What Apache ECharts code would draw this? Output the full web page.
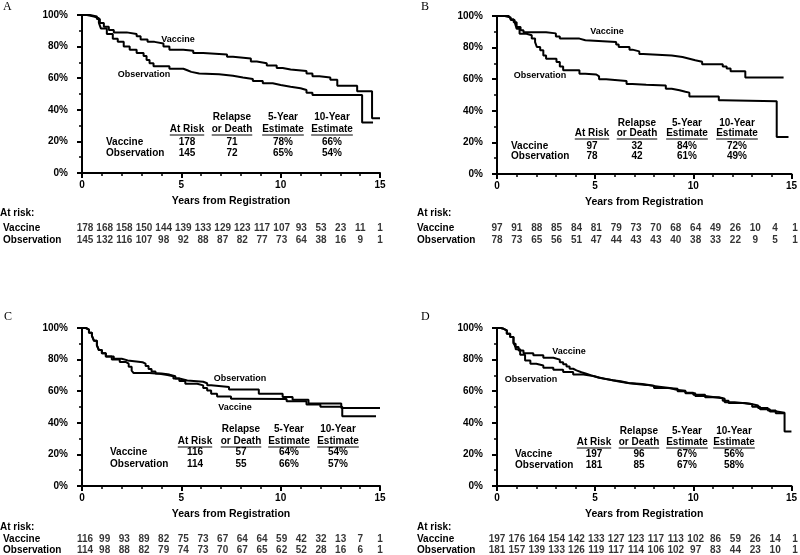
<!DOCTYPE html>
<html><head><meta charset="utf-8">
<script src="https://cdn.jsdelivr.net/npm/echarts/dist/echarts.min.js"></script>
<style>html,body{margin:0;padding:0;background:#fff}#c{width:800px;height:555px}</style>
</head><body><div id="c"></div>
<script>
// ---------- DATA ----------
const xTickValues = [0, 5, 10, 15];
const yTickValues = [0, 20, 40, 60, 80, 100];
const riskYears = [0,1,2,3,4,5,6,7,8,9,10,11,12,13,14,15];
const groupNames = ['Vaccine', 'Observation'];
const axisTitle = 'Years from Registration';
const riskTitle = 'At risk:';
const headerLine1 = ['', 'Relapse', '5-Year', '10-Year'];
const headerLine2 = ['At Risk', 'or Death', 'Estimate', 'Estimate'];

// Panel A
const vaccineA = [[0,100],[0.4,99],[0.75,97.5],[0.9,95],[1.1,92.5],[1.35,90.5],[1.6,89],[2.25,88],[2.75,86.5],[2.95,84.5],[3.3,83],[3.65,82],[4.1,80],[4.4,78],[5.1,77.4],[5.6,76],[6.1,75],[7.3,73.6],[7.6,72.5],[8.5,70.5],[8.8,69.5],[9.3,68],[9.8,66.5],[10.1,65.5],[10.5,64.5],[11.3,63],[11.6,61.3],[11.95,60.5],[12.5,59],[12.85,55.2],[13.85,51.8],[14.6,34.6],[15,34.6]];
const observationA = [[0,100],[0.25,99],[0.6,98],[0.85,95],[0.95,91.5],[1.25,88],[1.55,85],[1.8,83],[2.1,80],[2.4,78],[2.75,76],[3.1,74],[3.25,71.5],[3.4,69.4],[3.6,67.5],[4.4,66],[5.1,65],[5.3,64],[5.5,63],[5.9,62.5],[6.9,61.6],[7.6,60.5],[8.1,59.5],[8.6,58.2],[9.1,56.8],[9.6,55.7],[10.0,54.6],[10.5,53.6],[11.0,52.5],[11.3,50.8],[11.6,49.3],[14.1,32],[14.65,32]];
const riskVaccineA = [178,168,158,150,144,139,133,129,123,117,107,93,53,23,11,1];
const riskObservationA = [145,132,116,107,98,92,88,87,82,77,73,64,38,16,9,1];
const summaryVaccineA = ['178','71','78%','66%'];
const summaryObservationA = ['145','72','65%','54%'];

// Panel B
const vaccineB = [[0,100],[0.6,99],[0.7,98],[0.85,96],[1.0,93],[1.2,91],[1.35,89.7],[2.5,89],[3.0,87],[3.2,85.7],[4.2,84.6],[4.5,83.5],[6.07,82],[6.2,80.4],[6.75,78.7],[6.9,77.6],[7.25,76],[7.45,75],[8.9,74],[9.45,73],[9.8,72],[10.1,71],[10.45,69.4],[11.5,68],[11.7,66.7],[11.9,65],[12.65,61],[14.6,61]];
const observationB = [[0,100],[0.4,99],[0.7,97.5],[0.9,96],[1.0,92],[1.15,88.8],[1.5,87.8],[1.77,85.7],[1.94,83.5],[2.03,80.4],[2.2,78.3],[2.36,75],[2.5,73],[3.03,70.9],[3.2,68],[3.37,65.6],[4.2,63.5],[4.5,63],[5.06,61.8],[5.2,60],[5.56,58.9],[6.6,57],[6.9,56.5],[7.6,56],[8.6,54],[8.9,53],[9.3,52],[9.6,51.5],[9.8,49],[11.3,46.6],[11.5,46],[14.25,23.4],[14.85,23.4]];
const riskVaccineB = [97,91,88,85,84,81,79,73,70,68,64,49,26,10,4,1];
const riskObservationB = [78,73,65,56,51,47,44,43,43,40,38,33,22,9,5,1];
const summaryVaccineB = ['97','32','84%','72%'];
const summaryObservationB = ['78','42','61%','49%'];

// Panel C
const vaccineC = [[0,100],[0.2,99],[0.35,97],[0.5,95],[0.6,92],[0.75,89],[0.85,86],[1.0,84],[1.2,82],[1.6,80.5],[2.0,79.5],[2.3,78.3],[3.05,77.5],[3.2,76],[3.35,74],[3.5,72.5],[3.7,71.2],[4.0,70.5],[4.4,69.5],[4.7,68],[4.9,66.5],[5.2,64.7],[5.8,63.7],[6.1,62],[6.3,60.5],[6.5,58.4],[6.8,56.7],[7.5,55.2],[8.0,55],[10.3,53.7],[11.3,51.6],[12.0,50.2],[13.1,44.2],[14.8,44.2]];
const observationC = [[0,100],[0.2,99],[0.35,97],[0.5,95],[0.6,92],[0.75,89],[0.85,86],[1.0,84],[1.2,82],[1.5,80],[1.9,78.5],[2.2,77.4],[2.35,75.5],[2.5,73],[2.6,71.5],[3.4,71],[3.9,70.3],[4.3,69.5],[4.6,68],[4.9,66.8],[5.3,66],[6.1,65],[6.3,63.7],[6.5,62.6],[7.4,61],[8.9,58.4],[10.1,56.4],[10.6,54.6],[11.4,52.2],[13.05,49.4],[15,49.4]];
const riskVaccineC = [116,99,93,89,82,75,73,67,64,64,59,42,32,13,7,1];
const riskObservationC = [114,98,88,82,79,74,73,70,67,65,62,52,28,16,6,1];
const summaryVaccineC = ['116','57','64%','54%'];
const summaryObservationC = ['114','55','66%','57%'];

// Panel D
const vaccineD = [[0,100],[0.2,99.5],[0.34,98.5],[0.5,96.4],[0.67,94.3],[0.84,91],[0.93,88],[1.1,85.8],[1.35,84],[1.85,82.7],[2.36,81.2],[2.87,80],[3.2,78.4],[3.37,77],[3.54,75.7],[3.7,74.2],[3.88,73.2],[4.05,72],[4.3,71],[4.55,70],[4.8,69],[5.1,67.8],[5.5,67],[5.9,66.3],[6.3,65.2],[6.7,64.5],[7.4,63.5],[8.0,62],[8.7,61.5],[9.2,60],[9.6,58.7],[10.1,57],[10.6,56],[11.2,55.5],[11.5,54],[11.8,52.5],[12.6,51.8],[13.0,50.2],[13.4,48.5],[13.9,47.2],[14.25,46.3],[14.65,34.5],[15,34.5]];
const observationD = [[0,100],[0.2,99.5],[0.34,98.5],[0.5,96.4],[0.67,94.3],[0.84,90],[0.95,86.5],[1.18,83],[1.43,79.5],[1.7,77.4],[2.0,76.3],[2.36,74.9],[2.87,73.6],[3.37,72.1],[3.88,70.6],[4.4,69.6],[4.9,68.5],[5.2,67.4],[5.7,66.2],[6.2,65],[6.75,64],[7.6,62.9],[8.26,62],[8.8,61],[9.1,60.3],[9.6,59],[10.0,57.7],[10.6,56.2],[11.3,55.2],[11.6,53],[12.1,52],[12.9,51],[13.3,49.3],[13.8,47.8],[14.2,46],[14.65,46]];
const riskVaccineD = [197,176,164,154,142,133,127,123,117,113,102,86,59,26,14,1];
const riskObservationD = [181,157,139,133,126,119,117,114,106,102,97,83,44,23,10,1];
const summaryVaccineD = ['197','96','67%','56%'];
const summaryObservationD = ['181','85','67%','58%'];

// ---------- LAYOUT ----------
const FONT = '"Liberation Sans", Arial, Helvetica, sans-serif';
const SERIF = '"Liberation Serif", "Times New Roman", serif';
const panels = [
  {letter:'A', letterPos:[3,7], grid:{left:82, top:15, width:298, height:158}, riskGrid:{top:222, height:24}, rowLabelMargin:82, riskTitlePos:[0,213],
   vac:vaccineA, obs:observationA, rv:riskVaccineA, ro:riskObservationA, sv:summaryVaccineA, so:summaryObservationA,
   table:{labelX:106, cols:[187,232,283,332], ys:[117,129,142,153]},
   curveLabels:[{t:'Vaccine', x:178, y:40},{t:'Observation', x:144, y:75}]},
  {letter:'B', letterPos:[421,7], grid:{left:497, top:16, width:298, height:158}, riskGrid:{top:222, height:24}, rowLabelMargin:80, riskTitlePos:[417,213],
   vac:vaccineB, obs:observationB, rv:riskVaccineB, ro:riskObservationB, sv:summaryVaccineB, so:summaryObservationB,
   table:{labelX:511, cols:[592,637,687,737], ys:[123,133,146,156]},
   curveLabels:[{t:'Vaccine', x:607, y:32},{t:'Observation', x:540, y:76}]},
  {letter:'C', letterPos:[4,317], grid:{left:82, top:328, width:298, height:158}, riskGrid:{top:534, height:22}, rowLabelMargin:82, riskTitlePos:[0,527],
   vac:vaccineC, obs:observationC, rv:riskVaccineC, ro:riskObservationC, sv:summaryVaccineC, so:summaryObservationC,
   table:{labelX:110, cols:[195,241,289,338], ys:[429,441,452,464]},
   curveLabels:[{t:'Observation', x:240, y:379},{t:'Vaccine', x:235, y:408}]},
  {letter:'D', letterPos:[421,317], grid:{left:497, top:328, width:298, height:158}, riskGrid:{top:534, height:22}, rowLabelMargin:80, riskTitlePos:[417,527],
   vac:vaccineD, obs:observationD, rv:riskVaccineD, ro:riskObservationD, sv:summaryVaccineD, so:summaryObservationD,
   table:{labelX:515, cols:[594,639,687,734], ys:[431,442,454,465]},
   curveLabels:[{t:'Vaccine', x:569, y:352},{t:'Observation', x:531, y:380}]}
];

const measureCtx = document.createElement('canvas').getContext('2d');
function textWidth(s, size) { measureCtx.font = 'bold ' + size + 'px ' + FONT; return measureCtx.measureText(s).width; }
function txt(x, y, s, size, align, family, weight) {
  return {type:'text', x:x, y:y, silent:true, style:{text:s, fill:'#000', fontSize:size, fontWeight:weight||'bold', fontFamily:family||FONT, align:align||'center', verticalAlign:'middle'}};
}

const grids = [], xAxes = [], yAxes = [], series = [], graphics = [];
const black = '#000';
panels.forEach(function(p, i) {
  const gi = i * 2, ri = i * 2 + 1;
  grids.push(Object.assign({containLabel:false}, p.grid));
  grids.push({left:p.grid.left, width:p.grid.width, top:p.riskGrid.top, height:p.riskGrid.height, containLabel:false});
  xAxes.push({gridIndex:gi, type:'value', min:xTickValues[0], max:xTickValues[xTickValues.length-1], interval:xTickValues[1]-xTickValues[0],
    axisLine:{show:true, lineStyle:{color:black, width:2}},
    axisTick:{show:true, length:5, lineStyle:{color:black, width:2}},
    minorTick:{show:true, splitNumber:5, length:3, lineStyle:{color:black, width:1.5}},
    splitLine:{show:false},
    axisLabel:{color:black, fontSize:10, fontWeight:'bold', fontFamily:FONT, margin:7},
    name:axisTitle, nameLocation:'middle', nameGap:23,
    nameTextStyle:{color:black, fontSize:10.5, fontWeight:'bold', fontFamily:FONT}});
  xAxes.push({gridIndex:ri, type:'value', min:0, max:15, show:false});
  yAxes.push({gridIndex:gi, type:'value', min:yTickValues[0], max:yTickValues[yTickValues.length-1], interval:yTickValues[1]-yTickValues[0],
    axisLine:{show:true, lineStyle:{color:black, width:2}},
    axisTick:{show:true, length:5, lineStyle:{color:black, width:2}},
    minorTick:{show:true, splitNumber:2, length:3, lineStyle:{color:black, width:1.5}},
    splitLine:{show:false},
    axisLabel:{color:black, fontSize:10, fontWeight:'bold', fontFamily:FONT, margin:14, formatter:'{value}%'}});
  yAxes.push({gridIndex:ri, type:'category', data:groupNames, inverse:true,
    axisLine:{show:false}, axisTick:{show:false}, splitLine:{show:false},
    axisLabel:{interval:0, hideOverlap:false, color:black, fontSize:10, fontWeight:'bold', fontFamily:FONT, align:'left', margin:p.rowLabelMargin}});
  // survival curves
  [[groupNames[0], p.vac], [groupNames[1], p.obs]].forEach(function(s) {
    series.push({type:'line', name:s[0], xAxisIndex:gi, yAxisIndex:gi, data:s[1], step:'end', symbol:'none',
      lineStyle:{color:black, width:2}, silent:true, animation:false, clip:false});
  });
  // at-risk numbers
  [p.rv, p.ro].forEach(function(arr, k) {
    series.push({type:'scatter', xAxisIndex:ri, yAxisIndex:ri, symbolSize:1, itemStyle:{color:'rgba(0,0,0,0)'},
      data:riskYears.map(function(yr, j){ return [yr, k, arr[j]]; }),
      label:{show:true, position:'inside', formatter:function(q){return String(q.value[2]);}, color:black, fontSize:10, fontWeight:'bold', fontFamily:FONT},
      labelLayout:{hideOverlap:false},
      silent:true, animation:false});
  });
  // graphic texts
  graphics.push(txt(p.letterPos[0], p.letterPos[1], p.letter, 12, 'left', SERIF, 'normal'));
  graphics.push(txt(p.riskTitlePos[0], p.riskTitlePos[1], riskTitle, 10, 'left'));
  p.curveLabels.forEach(function(c){ graphics.push(txt(c.x, c.y, c.t, 9)); });
  const t = p.table;
  for (let c = 0; c < 4; c++) {
    if (headerLine1[c]) graphics.push(txt(t.cols[c], t.ys[0], headerLine1[c], 10));
    graphics.push(txt(t.cols[c], t.ys[1], headerLine2[c], 10));
    const w = textWidth(headerLine2[c], 10);
    graphics.push({type:'line', silent:true, shape:{x1:t.cols[c]-w/2, y1:t.ys[1]+6, x2:t.cols[c]+w/2, y2:t.ys[1]+6}, style:{stroke:black, lineWidth:1}});
    graphics.push(txt(t.cols[c], t.ys[2], p.sv[c], 10));
    graphics.push(txt(t.cols[c], t.ys[3], p.so[c], 10));
  }
  graphics.push(txt(t.labelX, t.ys[2], groupNames[0], 10, 'left'));
  graphics.push(txt(t.labelX, t.ys[3], groupNames[1], 10, 'left'));
});

const chart = echarts.init(document.getElementById('c'), null, {renderer:'canvas'});
chart.setOption({
  animation:false,
  backgroundColor:'#fff',
  grid:grids, xAxis:xAxes, yAxis:yAxes, series:series, graphic:graphics
});
</script></body></html>
